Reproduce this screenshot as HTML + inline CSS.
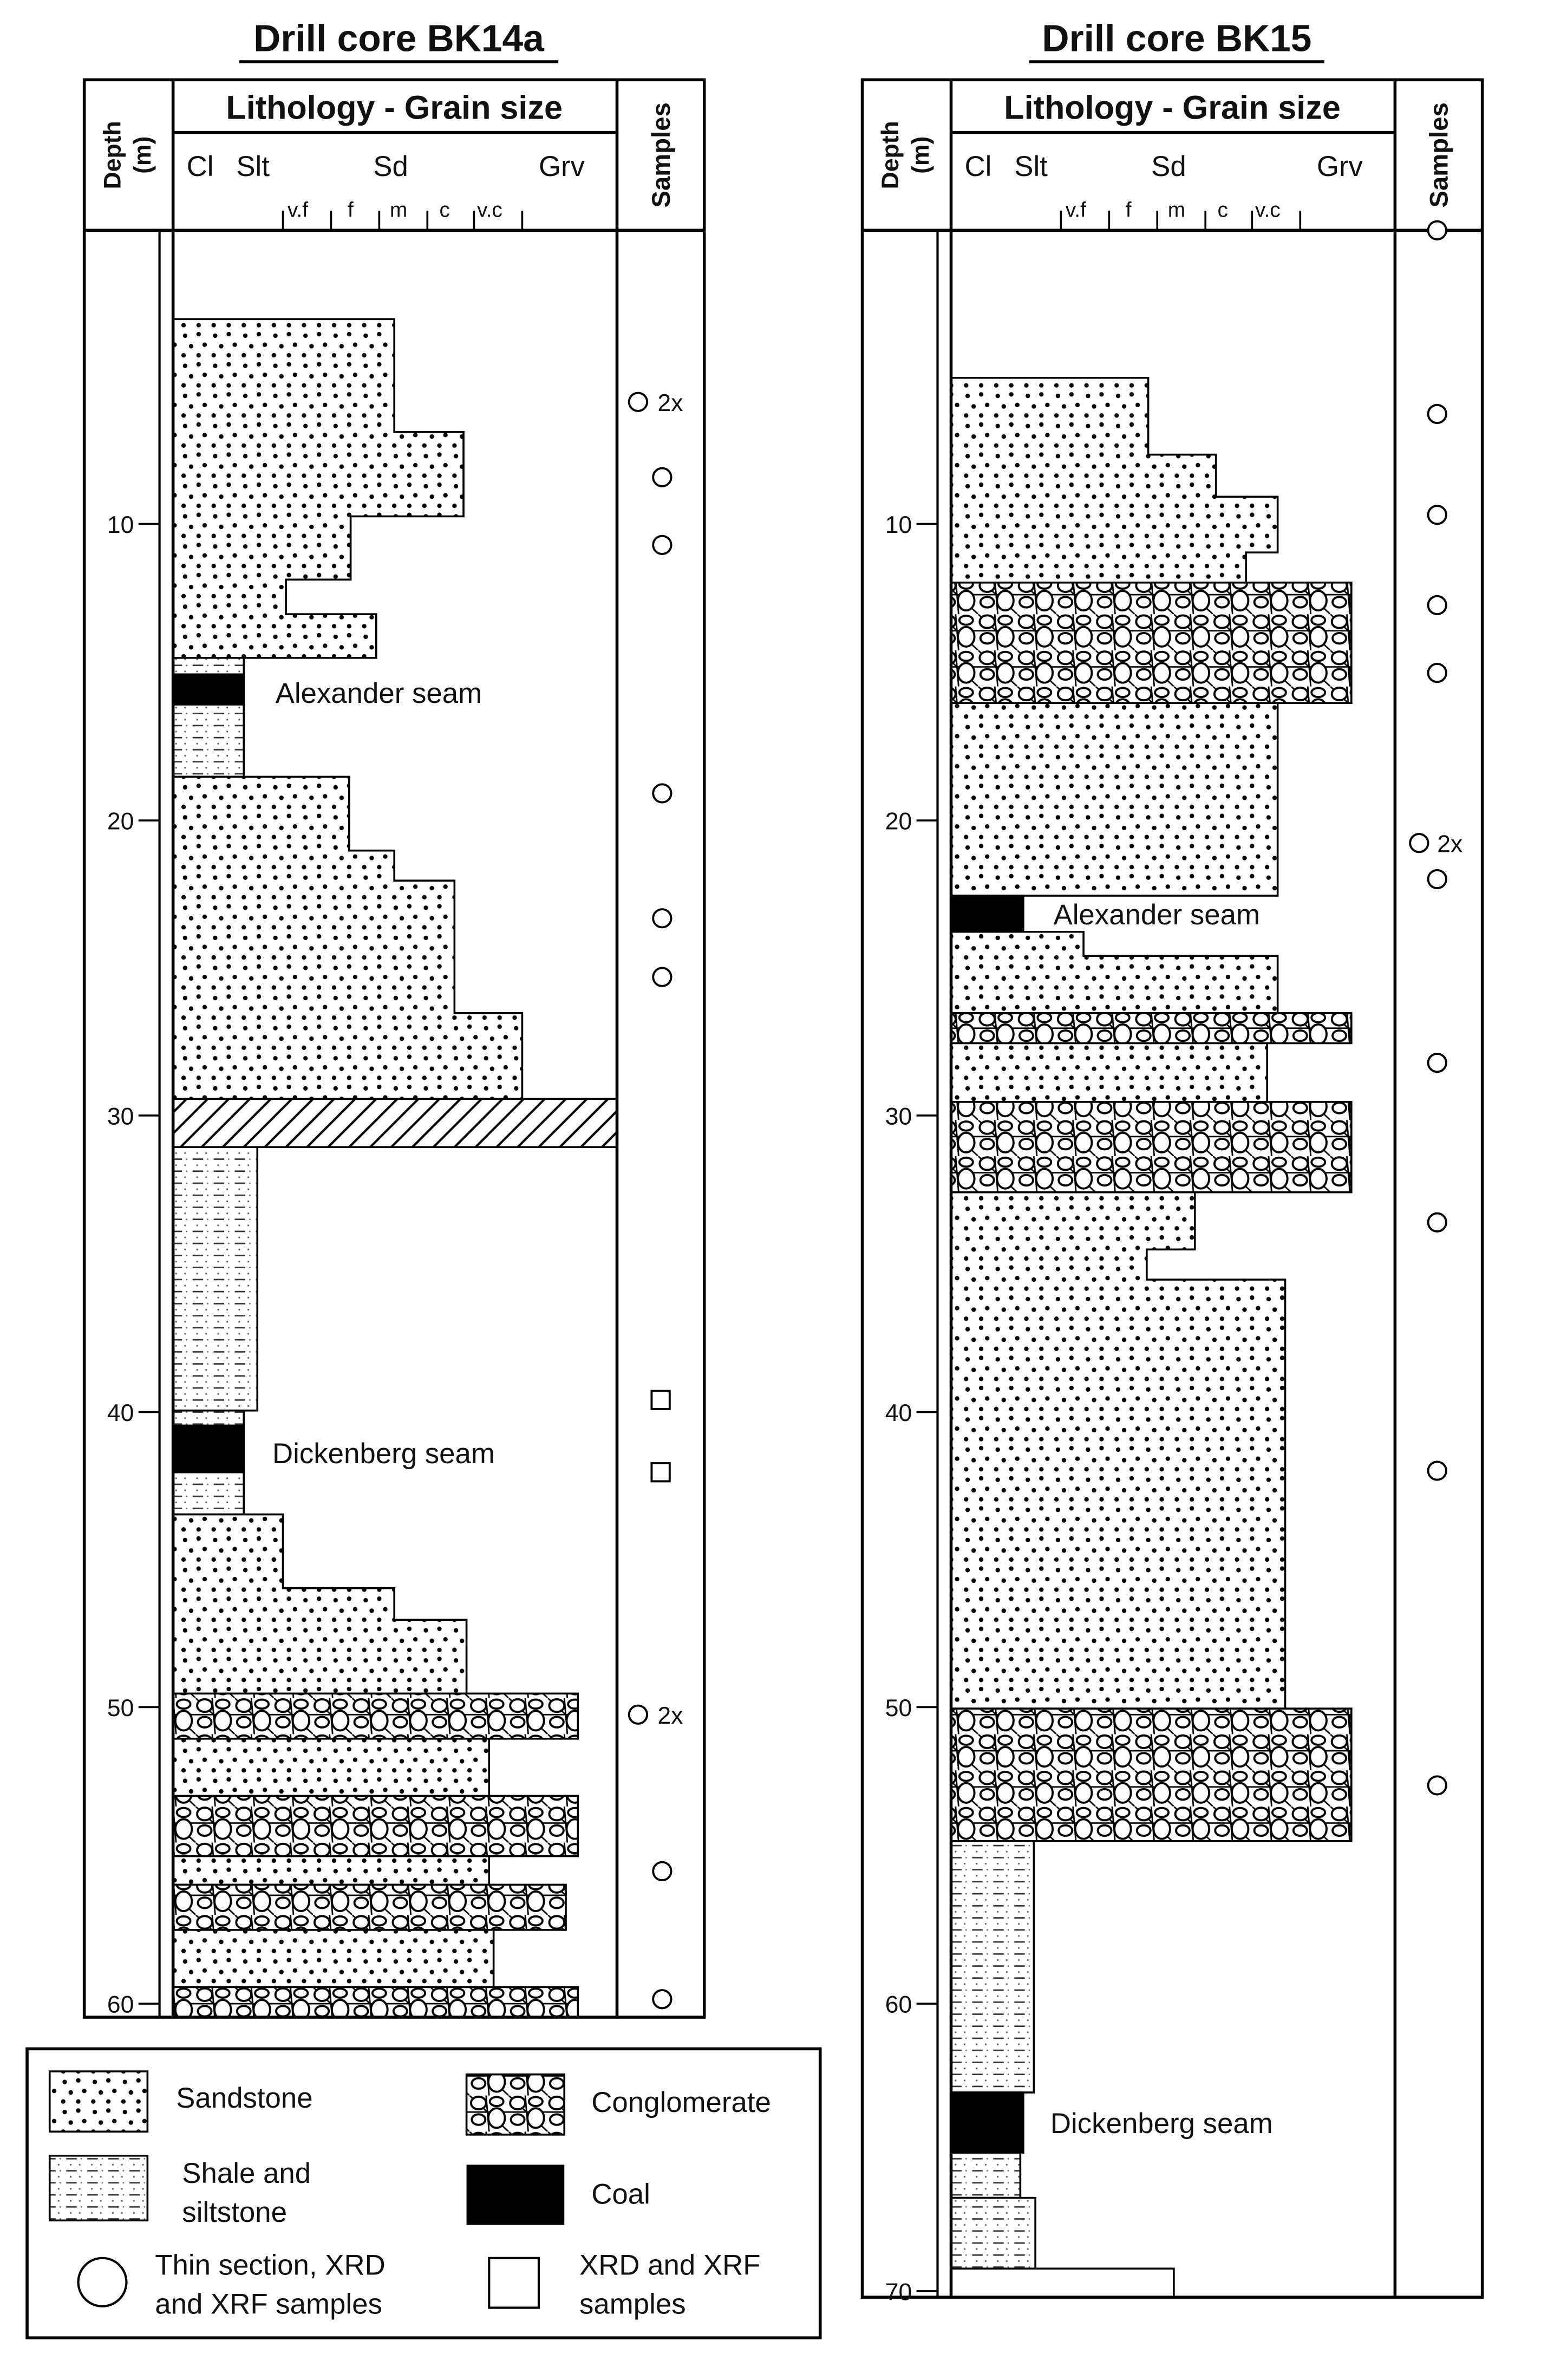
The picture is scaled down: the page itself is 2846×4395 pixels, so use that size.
<!DOCTYPE html>
<html><head><meta charset="utf-8"><style>
html,body{margin:0;padding:0;background:#fff}
svg{display:block}
text{font-family:"Liberation Sans",Arial,sans-serif;fill:#111}
</style></head><body>
<svg width="2846" height="4395" viewBox="0 0 1024 1581" preserveAspectRatio="none" xmlns="http://www.w3.org/2000/svg">
<defs>
<pattern id="sd" width="20" height="20" patternUnits="userSpaceOnUse">
<rect width="20" height="20" fill="#fff"/>
<g fill="#000"><circle cx="3" cy="3" r="1.5"/><circle cx="12" cy="2" r="1.5"/><circle cx="7" cy="10" r="1.5"/><circle cx="16" cy="9" r="1.5"/><circle cx="2" cy="16" r="1.5"/><circle cx="12" cy="16" r="1.5"/></g>
</pattern>
<pattern id="sh" width="14" height="8" patternUnits="userSpaceOnUse">
<rect width="14" height="8" fill="#fff"/>
<line x1="2" y1="2" x2="9" y2="2" stroke="#333" stroke-width="1"/>
<circle cx="5" cy="6" r="0.6" fill="#666"/><circle cx="11" cy="6" r="0.6" fill="#666"/><circle cx="12" cy="2" r="0.5" fill="#666"/>
</pattern>
<pattern id="cg" width="26" height="24" patternUnits="userSpaceOnUse">
<rect width="26" height="24" fill="#fff"/>
<g stroke="#000" stroke-width="1" fill="none">
<line x1="0" y1="11" x2="26" y2="11"/><line x1="11" y1="0" x2="13" y2="24"/><line x1="0" y1="0" x2="26" y2="24"/>
</g>
<g fill="#fff" stroke="#000" stroke-width="1.4">
<ellipse cx="6" cy="5" rx="5" ry="4.2"/><ellipse cx="18" cy="4" rx="4.5" ry="3"/>
<ellipse cx="18" cy="15" rx="5.5" ry="6.5"/><ellipse cx="6" cy="16" rx="4.5" ry="3.5"/>
</g>
</pattern>
<pattern id="ht" width="14" height="14" patternUnits="userSpaceOnUse">
<rect width="14" height="14" fill="#fff"/>
<line x1="0" y1="14" x2="14" y2="0" stroke="#000" stroke-width="1.5"/>
<line x1="-7" y1="7" x2="7" y2="-7" stroke="#000" stroke-width="1.5"/>
<line x1="7" y1="21" x2="21" y2="7" stroke="#000" stroke-width="1.5"/>
</pattern>
</defs>
<rect width="1024" height="1581" fill="#fff"/>

<!-- ===== BK14a ===== -->
<text x="265" y="34" font-size="25" font-weight="bold" text-anchor="middle">Drill core BK14a</text>
<line x1="159" y1="41" x2="371" y2="41" stroke="#000" stroke-width="2"/>
<g>
<g stroke="#000" stroke-width="1.3">
<path d="M115 212 H262 V287 H308 V343 H233 V385 H190 V408 H250 V437 H115 Z" fill="url(#sd)"/>
<rect x="115" y="437" width="47" height="11" fill="url(#sh)"/>
<rect x="115" y="448" width="47" height="20" fill="#000"/>
<rect x="115" y="468" width="47" height="48" fill="url(#sh)"/>
<path d="M115 516 H232 V565 H262 V585 H302 V673 H347 V730 H115 Z" fill="url(#sd)"/>
<rect x="115" y="730" width="295" height="32" fill="url(#ht)"/>
<rect x="115" y="762" width="56" height="175" fill="url(#sh)"/>
<rect x="115" y="937" width="47" height="10" fill="url(#sh)"/>
<rect x="115" y="947" width="47" height="31" fill="#000"/>
<rect x="115" y="978" width="47" height="28" fill="url(#sh)"/>
<path d="M115 1006 H188 V1055 H262 V1076 H310 V1125 H115 Z" fill="url(#sd)"/>
<rect x="115" y="1125" width="269" height="30" fill="url(#cg)"/>
<rect x="115" y="1155" width="210" height="38" fill="url(#sd)"/>
<rect x="115" y="1193" width="269" height="40" fill="url(#cg)"/>
<rect x="115" y="1233" width="210" height="19" fill="url(#sd)"/>
<rect x="115" y="1252" width="261" height="30" fill="url(#cg)"/>
<rect x="115" y="1282" width="213" height="38" fill="url(#sd)"/>
<rect x="115" y="1320" width="269" height="20" fill="url(#cg)"/>
</g>
<g fill="none" stroke="#000" stroke-width="2">
<rect x="56" y="53" width="412" height="1287"/>
<line x1="115" y1="53" x2="115" y2="1340"/>
<line x1="410" y1="53" x2="410" y2="1340"/>
<line x1="56" y1="153" x2="468" y2="153"/>
<line x1="115" y1="88" x2="410" y2="88"/>
<line x1="106" y1="153" x2="106" y2="1340" stroke-width="1.5"/>
</g>
<g stroke="#000" stroke-width="1.3">
<line x1="188" y1="140" x2="188" y2="153"/><line x1="220" y1="140" x2="220" y2="153"/><line x1="252" y1="140" x2="252" y2="153"/><line x1="284" y1="140" x2="284" y2="153"/><line x1="315" y1="140" x2="315" y2="153"/><line x1="347" y1="140" x2="347" y2="153"/>
</g>
<text x="262" y="79" font-size="22" font-weight="bold" text-anchor="middle">Lithology - Grain size</text>
<text x="124" y="117" font-size="19">Cl</text><text x="157" y="117" font-size="19">Slt</text>
<text x="248" y="117" font-size="19">Sd</text><text x="358" y="117" font-size="19">Grv</text>
<g font-size="14"><text x="191" y="144">v.f</text><text x="231" y="144">f</text><text x="259" y="144">m</text><text x="292" y="144">c</text><text x="317" y="144">v.c</text></g>
<text transform="translate(80,103) rotate(-90)" font-size="16" font-weight="bold" text-anchor="middle">Depth</text>
<text transform="translate(100,103) rotate(-90)" font-size="16" font-weight="bold" text-anchor="middle">(m)</text>
<text transform="translate(445,103) rotate(-90)" font-size="17" font-weight="bold" text-anchor="middle">Samples</text>
<g font-size="16" text-anchor="end">
<text x="89" y="354">10</text><text x="89" y="551">20</text><text x="89" y="747">30</text><text x="89" y="944">40</text><text x="89" y="1140">50</text><text x="89" y="1337">60</text>
</g>
<g stroke="#000" stroke-width="1.3">
<line x1="92" y1="348" x2="106" y2="348"/><line x1="92" y1="545" x2="106" y2="545"/><line x1="92" y1="741" x2="106" y2="741"/><line x1="92" y1="938" x2="106" y2="938"/><line x1="92" y1="1134" x2="106" y2="1134"/><line x1="92" y1="1331" x2="106" y2="1331"/>
</g>
<text x="183" y="467" font-size="19">Alexander seam</text>
<text x="181" y="972" font-size="19">Dickenberg seam</text>
<g fill="#fff" stroke="#000" stroke-width="1.4">
<circle cx="424" cy="267" r="6"/><circle cx="440" cy="317" r="6"/><circle cx="440" cy="362" r="6"/><circle cx="440" cy="527" r="6"/><circle cx="440" cy="610" r="6"/><circle cx="440" cy="649" r="6"/><circle cx="424" cy="1139" r="6"/><circle cx="440" cy="1243" r="6"/><circle cx="440" cy="1328" r="6"/>
<rect x="433" y="924" width="12" height="12"/><rect x="433" y="972" width="12" height="12"/>
</g>
<text x="437" y="273" font-size="16">2x</text><text x="437" y="1145" font-size="16">2x</text>
</g>

<!-- ===== BK15 ===== -->
<text x="782" y="34" font-size="25" font-weight="bold" text-anchor="middle">Drill core BK15</text>
<line x1="684" y1="41" x2="880" y2="41" stroke="#000" stroke-width="2"/>
<g stroke="#000" stroke-width="1.3">
<path d="M632 251 H763 V302 H808 V330 H849 V367 H828 V387 H632 Z" fill="url(#sd)"/>
<rect x="632" y="387" width="266" height="80" fill="url(#cg)"/>
<rect x="632" y="467" width="217" height="128" fill="url(#sd)"/>
<rect x="632" y="595" width="48" height="24" fill="#000"/>
<path d="M632 619 H720 V635 H849 V673 H632 Z" fill="url(#sd)"/>
<rect x="632" y="673" width="266" height="20" fill="url(#cg)"/>
<rect x="632" y="693" width="210" height="39" fill="url(#sd)"/>
<rect x="632" y="732" width="266" height="60" fill="url(#cg)"/>
<path d="M632 792 H794 V830 H762 V850 H854 V1135 H632 Z" fill="url(#sd)"/>
<rect x="632" y="1135" width="266" height="88" fill="url(#cg)"/>
<rect x="632" y="1223" width="55" height="167" fill="url(#sh)"/>
<rect x="632" y="1390" width="48" height="40" fill="#000"/>
<rect x="632" y="1430" width="46" height="30" fill="url(#sh)"/>
<rect x="632" y="1460" width="56" height="47" fill="url(#sh)"/>
<rect x="632" y="1507" width="148" height="19" fill="#fff"/>
</g>
<g fill="none" stroke="#000" stroke-width="2">
<rect x="573" y="53" width="412" height="1473"/>
<line x1="632" y1="53" x2="632" y2="1526"/>
<line x1="927" y1="53" x2="927" y2="1526"/>
<line x1="573" y1="153" x2="985" y2="153"/>
<line x1="632" y1="88" x2="927" y2="88"/>
<line x1="623" y1="153" x2="623" y2="1526" stroke-width="1.5"/>
</g>
<g stroke="#000" stroke-width="1.3">
<line x1="705" y1="140" x2="705" y2="153"/><line x1="737" y1="140" x2="737" y2="153"/><line x1="769" y1="140" x2="769" y2="153"/><line x1="801" y1="140" x2="801" y2="153"/><line x1="832" y1="140" x2="832" y2="153"/><line x1="864" y1="140" x2="864" y2="153"/>
</g>
<text x="779" y="79" font-size="22" font-weight="bold" text-anchor="middle">Lithology - Grain size</text>
<text x="641" y="117" font-size="19">Cl</text><text x="674" y="117" font-size="19">Slt</text>
<text x="765" y="117" font-size="19">Sd</text><text x="875" y="117" font-size="19">Grv</text>
<g font-size="14"><text x="708" y="144">v.f</text><text x="748" y="144">f</text><text x="776" y="144">m</text><text x="809" y="144">c</text><text x="834" y="144">v.c</text></g>
<text transform="translate(597,103) rotate(-90)" font-size="16" font-weight="bold" text-anchor="middle">Depth</text>
<text transform="translate(617,103) rotate(-90)" font-size="16" font-weight="bold" text-anchor="middle">(m)</text>
<text transform="translate(962,103) rotate(-90)" font-size="17" font-weight="bold" text-anchor="middle">Samples</text>
<g font-size="16" text-anchor="end">
<text x="606" y="354">10</text><text x="606" y="551">20</text><text x="606" y="747">30</text><text x="606" y="944">40</text><text x="606" y="1140">50</text><text x="606" y="1337">60</text><text x="606" y="1528">70</text>
</g>
<g stroke="#000" stroke-width="1.3">
<line x1="609" y1="348" x2="623" y2="348"/><line x1="609" y1="545" x2="623" y2="545"/><line x1="609" y1="741" x2="623" y2="741"/><line x1="609" y1="938" x2="623" y2="938"/><line x1="609" y1="1134" x2="623" y2="1134"/><line x1="609" y1="1331" x2="623" y2="1331"/><line x1="609" y1="1522" x2="623" y2="1522"/>
</g>
<text x="700" y="614" font-size="19">Alexander seam</text>
<text x="698" y="1417" font-size="19">Dickenberg seam</text>
<g fill="#fff" stroke="#000" stroke-width="1.4">
<circle cx="955" cy="153" r="6"/><circle cx="955" cy="275" r="6"/><circle cx="955" cy="342" r="6"/><circle cx="955" cy="402" r="6"/><circle cx="955" cy="447" r="6"/><circle cx="943" cy="560" r="6"/><circle cx="955" cy="584" r="6"/><circle cx="955" cy="706" r="6"/><circle cx="955" cy="812" r="6"/><circle cx="955" cy="977" r="6"/><circle cx="955" cy="1186" r="6"/>
</g>
<text x="955" y="566" font-size="16">2x</text>

<!-- ===== Legend ===== -->
<rect x="18" y="1361" width="527" height="192" fill="none" stroke="#000" stroke-width="2"/>
<rect x="33" y="1376" width="65" height="40" fill="url(#sd)" stroke="#000" stroke-width="1.3"/>
<text x="117" y="1400" font-size="19">Sandstone</text>
<rect x="310" y="1378" width="65" height="40" fill="url(#cg)" stroke="#000" stroke-width="1.3"/>
<text x="393" y="1403" font-size="19">Conglomerate</text>
<rect x="33" y="1432" width="65" height="43" fill="url(#sh)" stroke="#000" stroke-width="1.3"/>
<text x="121" y="1450" font-size="19">Shale and</text>
<text x="121" y="1476" font-size="19">siltstone</text>
<rect x="310" y="1438" width="65" height="40" fill="#000"/>
<text x="393" y="1464" font-size="19">Coal</text>
<circle cx="68" cy="1516" r="16" fill="#fff" stroke="#000" stroke-width="1.5"/>
<text x="103" y="1511" font-size="19">Thin section, XRD</text>
<text x="103" y="1537" font-size="19">and XRF samples</text>
<rect x="325" y="1500" width="33" height="33" fill="#fff" stroke="#000" stroke-width="1.5"/>
<text x="385" y="1511" font-size="19">XRD and XRF</text>
<text x="385" y="1537" font-size="19">samples</text>
</svg>
</body></html>
